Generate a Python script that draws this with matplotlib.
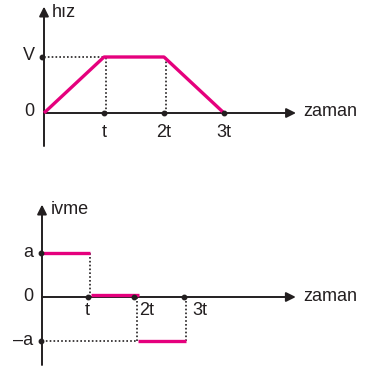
import numpy as np
import matplotlib.pyplot as plt
from matplotlib import transforms

plt.rcParams['font.family'] = ['Liberation Sans', 'DejaVu Sans']

# hiz - zaman (units of t and V)
v_time = [0, 1, 2, 3]
v_vals = [0, 1, 1, 0]
v_ticks = [1, 2, 3]
v_ticklabels = ['t', '2t', '3t']

# ivme - zaman (units of t and a)
a_edges = [0, 1, 2, 3]
a_vals = [1, 0, -1]
a_ticks = [1, 2, 3]
a_ticklabels = ['t', '2t', '3t']

pink = '#e5007d'
ink = '#231f20'
fs = 13
dot_style = dict(color=ink, lw=1.2, linestyle=(0, (1.0, 1.3)))

fig = plt.figure(figsize=(3.65, 3.68), dpi=100)

def arrow(ax, x0, y0, x1, y1):
    ax.annotate('', xy=(x1, y1), xytext=(x0, y0),
                arrowprops=dict(arrowstyle='-|>', color=ink, lw=1.4,
                                mutation_scale=14, shrinkA=0, shrinkB=0))

# ---- top: hiz ----
ax1 = fig.add_axes([0, 0, 1, 1])
ax1.set_xlim(-44/60, (365-44)/60)
ax1.set_ylim((113-368)/56, 113/56)
ax1.axis('off')
ax1.patch.set_alpha(0)

arrow(ax1, 0, -0.59, 0, 1.9)
arrow(ax1, 0, 0, 4.2, 0)
ax1.plot([0, 1], [1, 1], **dot_style)
ax1.plot([1.03, 1.03], [0, 1], **dot_style)
ax1.plot([2.03, 2.03], [0, 1], **dot_style)
ax1.plot(v_time, v_vals, color=pink, lw=2.4, solid_capstyle='butt', zorder=4)
ax1.plot(v_ticks, [0]*len(v_ticks), 'o', color=ink, ms=3.2, zorder=5)
ax1.plot([-0.03], [1], 'o', color=ink, ms=3.2, zorder=5)
for x, lab in zip(v_ticks, v_ticklabels):
    ax1.text(x, -0.34, lab, ha='center', va='center', fontsize=fs, color=ink)
ax1.text(-0.15, 1.02, 'V', ha='right', va='center', fontsize=fs, color=ink)
ax1.text(-0.16, 0.02, '0', ha='right', va='center', fontsize=fs, color=ink)
ax1.text(0.13, 1.8, 'hız', ha='left', va='center', fontsize=fs, color=ink)
ax1.text(4.32, 0.02, 'zaman', ha='left', va='center', fontsize=fs, color=ink)

# ---- bottom: ivme ----
ax2 = fig.add_axes([0, 0, 1, 1])
ax2.set_xlim(-42/47, (365-42)/47)
ax2.set_ylim((297-368)/44, 297/44)
ax2.axis('off')
ax2.patch.set_alpha(0)

arrow(ax2, 0, -1.545, 0, 2.1)
arrow(ax2, 0, 0, 5.4, 0)
ax2.plot([1.02, 1.02], [0, 1], **dot_style)
ax2.plot([2.02, 2.02], [-1, 0], **dot_style)
ax2.plot([3.06, 3.06], [-1, 0], **dot_style)
ax2.plot([0, 2], [-1, -1], **dot_style)
up = transforms.offset_copy(ax2.transData, fig=fig, x=0, y=1.6, units='points')
for i, val in enumerate(a_vals):
    tr = up if val == 0 else ax2.transData
    ax2.plot([a_edges[i] + (0.04 if i else 0), a_edges[i+1] + (0.06 if i else 0.03)],
             [val, val], color=pink, lw=2.4, solid_capstyle='butt', zorder=4,
             transform=tr)
ax2.plot([0.97, 1.96, 3.02], [0]*len(a_ticks), 'o', color=ink, ms=3.2, zorder=5)
ax2.plot([-0.03, -0.03], [1, -1], 'o', color=ink, ms=3.2, zorder=5)
ax2.text(a_ticks[0] - 0.03, -0.3, a_ticklabels[0], ha='center', va='center', fontsize=fs, color=ink)
ax2.text(2.07, -0.3, a_ticklabels[1], ha='left', va='center', fontsize=fs, color=ink)
ax2.text(3.2, -0.3, a_ticklabels[2], ha='left', va='center', fontsize=fs, color=ink)
ax2.text(-0.18, 1.02, 'a', ha='right', va='center', fontsize=fs, color=ink)
ax2.text(-0.18, -0.98, '–a', ha='right', va='center', fontsize=fs, color=ink)
ax2.text(-0.18, 0.02, '0', ha='right', va='center', fontsize=fs, color=ink)
ax2.text(0.18, 1.98, 'ivme', ha='left', va='center', fontsize=fs, color=ink)
ax2.text(5.55, 0.02, 'zaman', ha='left', va='center', fontsize=fs, color=ink)

fig.savefig('out.png', dpi=100)
